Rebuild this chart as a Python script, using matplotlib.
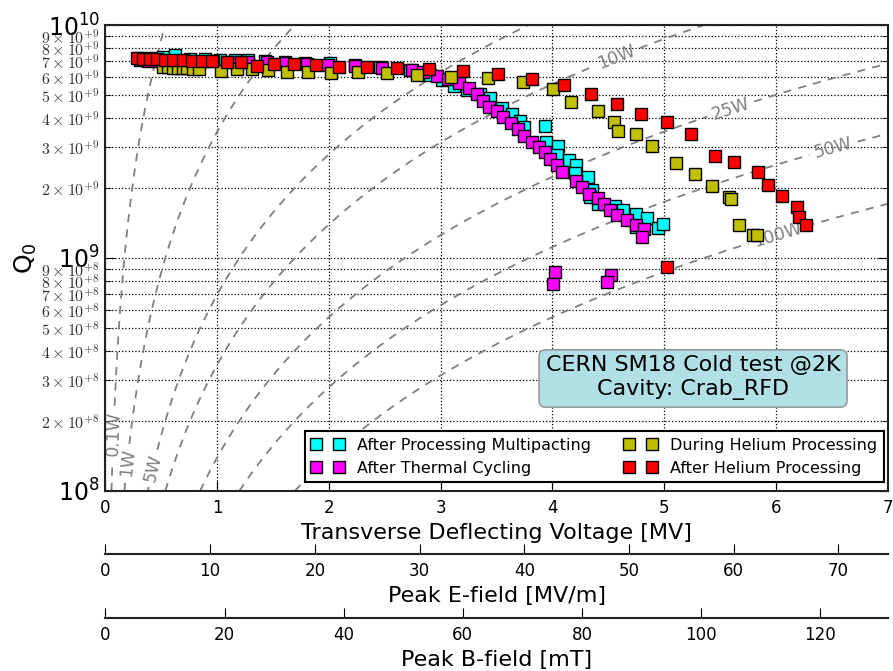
import numpy as np
import matplotlib
matplotlib.use("Agg")
import matplotlib.pyplot as plt
from matplotlib.ticker import FixedLocator, FuncFormatter, NullLocator

plt.rcParams['font.family'] = ['DejaVu Sans']
plt.rcParams['mathtext.fontset'] = 'cm'

# ---------------- data ----------------
# After Processing Multipacting (cyan)
V_mp = [0.309, 0.416, 0.515, 0.622, 0.756, 0.891, 1.025, 1.159, 1.276, 1.428, 1.607, 1.786,
        2.010, 2.234, 2.457, 2.726, 2.905, 3.013, 3.123, 3.234, 3.353, 3.442, 3.547, 3.637,
        3.711, 3.747, 3.935, 3.944, 4.054, 4.045, 4.153, 4.214, 4.199, 4.319, 4.358, 4.336,
        4.407, 4.564, 4.628, 4.745, 4.843, 4.942, 4.986, 4.746]
Q_mp = [7.25, 7.25, 7.29, 7.47, 7.18, 7.14, 7.11, 7.07, 7.07, 7.04, 6.97, 6.90,
        6.84, 6.74, 6.60, 6.41, 6.10, 5.81, 5.45, 5.26, 5.06, 4.86, 4.40, 4.15,
        3.87, 3.65, 3.70, 3.15, 3.04, 2.77, 2.64, 2.50, 2.32, 2.23, 1.96, 1.82,
        1.71, 1.67, 1.60, 1.55, 1.48, 1.345, 1.40, 1.36]

# After Thermal Cycling (magenta)
V_tc = [0.309, 0.380, 0.461, 0.542, 0.631, 0.730, 0.837, 0.965, 1.144, 1.278, 1.443, 1.607,
        1.801, 1.995, 2.234, 2.473, 2.741, 2.845, 2.965, 3.069, 3.165, 3.257, 3.323, 3.377,
        3.436, 3.508, 3.561, 3.630, 3.690, 3.749, 3.818, 3.884, 3.935, 3.979, 4.039, 4.084,
        4.212, 4.268, 4.324, 4.405, 4.465, 4.519, 4.579, 4.669, 4.745, 4.821, 4.799,
        4.024, 4.010, 4.526, 4.487]
Q_tc = [7.07, 7.04, 7.01, 6.97, 6.94, 6.94, 6.90, 7.03, 6.96, 6.97, 6.92, 6.87,
        6.80, 6.74, 6.67, 6.52, 6.41, 6.27, 6.06, 5.85, 5.655, 5.38, 5.06, 4.73,
        4.46, 4.275, 4.04, 3.785, 3.58, 3.35, 3.155, 3.00, 2.84, 2.67, 2.495, 2.35,
        2.13, 2.02, 1.89, 1.81, 1.705, 1.61, 1.53, 1.45, 1.39, 1.33, 1.23,
        0.875, 0.776, 0.845, 0.786]

# During Helium Processing (yellow)
V_dhp = [0.517, 0.562, 0.607, 0.652, 0.697, 0.732, 0.786, 0.837, 1.031, 1.175, 1.309, 1.457,
         1.622, 1.813, 2.019, 2.258, 2.517, 2.789, 3.090, 3.422, 3.740, 4.004, 4.166, 4.404,
         4.549, 4.584, 4.747, 4.890, 5.107, 5.279, 5.425, 5.584, 5.602, 5.673, 5.797, 5.833]
Q_dhp = [6.62, 6.58, 6.56, 6.54, 6.52, 6.52, 6.50, 6.48, 6.35, 6.50, 6.46, 6.39,
         6.30, 6.27, 6.21, 6.30, 6.21, 6.10, 6.00, 5.90, 5.71, 5.29, 4.69, 4.29,
         3.82, 3.50, 3.42, 3.02, 2.55, 2.29, 2.03, 1.82, 1.80, 1.39, 1.26, 1.25]

# After Helium Processing (red)
V_ahp = [0.279, 0.336, 0.398, 0.458, 0.533, 0.607, 0.691, 0.777, 0.864, 0.953, 1.085, 1.210,
         1.354, 1.511, 1.690, 1.885, 2.093, 2.338, 2.607, 2.896, 3.196, 3.514, 3.816, 4.101,
         4.350, 4.582, 4.794, 5.024, 5.239, 5.457, 5.627, 5.844, 5.927, 6.054, 6.191, 6.206,
         6.268, 5.030]
Q_ahp = [7.19, 7.18, 7.14, 7.12, 7.10, 7.07, 7.05, 7.03, 7.01, 6.99, 6.96, 6.92,
         6.69, 6.82, 6.80, 6.74, 6.62, 6.59, 6.52, 6.45, 6.36, 6.16, 5.86, 5.51,
         5.07, 4.595, 4.16, 3.835, 3.40, 2.74, 2.57, 2.34, 2.06, 1.84, 1.66, 1.50,
         1.39, 0.915]

series_labels = ["After Processing Multipacting", "After Thermal Cycling",
                 "During Helium Processing", "After Helium Processing"]
series_colors = ["#00ffff", "#ff00ff", "#bfbf00", "#ff0000"]

# iso-power lines  P = V^2 / (R/Q * Q0)
RQ_OHM = 287.0
power_levels = [0.1, 1, 5, 10, 25, 50, 100]
power_label_q = [1.77e8, 1.32e8, 1.25e8, 7.3e9, 4.36e9, 2.96e9, 1.26e9]

EP_PER_MV = 10.67
BP_PER_MV = 18.76

# ---------------- figure ----------------
fig = plt.figure(figsize=(8.93, 6.71), dpi=100)
ax = fig.add_axes([0.1181, 0.2683, 0.8758, 0.6944])
ax.set_yscale('log')
ax.set_xlim(0, 7)
ax.set_ylim(1e8, 1e10)

renderer = fig.canvas.get_renderer()
line_col = '#808080'
lab_fs = 12.5
for P, ql in zip(power_levels, power_label_q):
    q = np.logspace(8, 10, 4000)
    v = np.sqrt(RQ_OHM * q * P) / 1e6
    pts = ax.transData.transform(np.column_stack([v, q]))
    vl = np.sqrt(RQ_OHM * ql * P) / 1e6
    pl = ax.transData.transform((vl, ql))
    i = int(np.argmin(np.hypot(pts[:, 0] - pl[0], pts[:, 1] - pl[1])))
    d = pts[min(i + 5, len(pts) - 1)] - pts[max(i - 5, 0)]
    ang = np.degrees(np.arctan2(d[1], d[0]))
    if ang > 90:
        ang -= 180
    if ang < -90:
        ang += 180
    lab = '%gW' % P
    tmp = ax.text(0, 0, lab, fontsize=lab_fs)
    w = tmp.get_window_extent(renderer).width
    tmp.remove()
    gap = np.hypot(pts[:, 0] - pl[0], pts[:, 1] - pl[1]) < (w / 2 + 5)
    vp = v.copy()
    vp[gap] = np.nan
    ax.plot(vp, q, color=line_col, lw=1.3, ls=(0, (4.5, 4)), zorder=2)
    ax.text(vl, ql, lab, rotation=ang, rotation_mode='anchor', ha='center',
            va='center', fontsize=lab_fs, color=line_col, zorder=2.5)

data = [(V_mp, Q_mp), (V_tc, Q_tc), (V_dhp, Q_dhp), (V_ahp, Q_ahp)]
for (v, q), lab, col in zip(data, series_labels, series_colors):
    ax.plot(v, np.array(q) * 1e9, 's', color=col, mec='k', mew=1.0, ms=8.5,
            label=lab, zorder=3)

ax.xaxis.set_major_locator(FixedLocator(range(0, 8)))
ax.xaxis.set_minor_locator(NullLocator())
ax.yaxis.set_major_locator(FixedLocator([1e8, 1e9, 1e10]))
minor_vals = [m * 10.0 ** e for e in (8, 9) for m in range(2, 10)]
ax.yaxis.set_minor_locator(FixedLocator(minor_vals))

def major_fmt(y, pos):
    return r'$\mathdefault{10^{%d}}$' % int(round(np.log10(y)))

def minor_fmt(y, pos):
    e = int(np.floor(np.log10(y) + 1e-9))
    m = int(round(y / 10.0 ** e))
    return r'$%d\times10^{+%d}$' % (m, e)

ax.yaxis.set_major_formatter(FuncFormatter(major_fmt))
ax.yaxis.set_minor_formatter(FuncFormatter(minor_fmt))

ax.tick_params(axis='both', which='both', direction='in', top=True, right=True)
ax.tick_params(axis='y', which='major', labelsize=17, length=7, pad=4)
ax.tick_params(axis='y', which='minor', labelsize=11.5, length=4, pad=4, labelcolor='#333333')
ax.tick_params(axis='x', which='major', labelsize=12, length=7, pad=6)

ax.grid(True, which='major', axis='x', ls=':', color='k', lw=0.9)
ax.grid(True, which='both', axis='y', ls=':', color='k', lw=0.9)
for s in ax.spines.values():
    s.set_linewidth(1.5)
    s.set_color('#222222')

ax.set_xlabel('Transverse Deflecting Voltage [MV]', fontsize=16, labelpad=4)
ax.set_ylabel(r'$\mathdefault{Q_0}$', fontsize=18, labelpad=2)

leg = ax.legend(loc='lower right', ncol=2, numpoints=2, fontsize=11.5,
                fancybox=False, framealpha=1, edgecolor='k',
                bbox_to_anchor=(0.999, 0.012), borderaxespad=0.2,
                handletextpad=0.85, columnspacing=2.1, borderpad=0.4,
                labelspacing=0.5, handlelength=2.0)
leg.get_frame().set_linewidth(1.5)

ax.text(0.7513, 0.2425, 'CERN SM18 Cold test @2K\nCavity: Crab_RFD',
        transform=ax.transAxes, ha='center', va='center', fontsize=16,
        linespacing=1.25, zorder=5,
        bbox=dict(boxstyle='round,pad=0.3', facecolor='#b0e0e6',
                  edgecolor='#999999', lw=1.2))

# secondary axes: peak E field and peak B field
def make_secondary(offset_pt, vmax, ticks, label):
    a2 = ax.twiny()
    a2.set_xlim(0, vmax)
    for k in ('top', 'left', 'right'):
        a2.spines[k].set_visible(False)
    a2.spines['bottom'].set_visible(True)
    a2.spines['bottom'].set_position(('outward', offset_pt))
    a2.spines['bottom'].set_linewidth(1.5)
    a2.spines['bottom'].set_color('#222222')
    a2.xaxis.set_ticks_position('bottom')
    a2.xaxis.set_label_position('bottom')
    a2.xaxis.set_major_locator(FixedLocator(ticks))
    a2.xaxis.set_minor_locator(NullLocator())
    a2.tick_params(axis='x', direction='in', labelsize=12, length=7, pad=6)
    a2.set_xlabel(label, fontsize=16, labelpad=4)
    return a2

make_secondary(45.5, 7 * EP_PER_MV, list(range(0, 80, 10)), 'Peak E-field [MV/m]')
make_secondary(91.5, 7 * BP_PER_MV, list(range(0, 140, 20)), 'Peak B-field [mT]')

fig.savefig('out.png', dpi=100)
